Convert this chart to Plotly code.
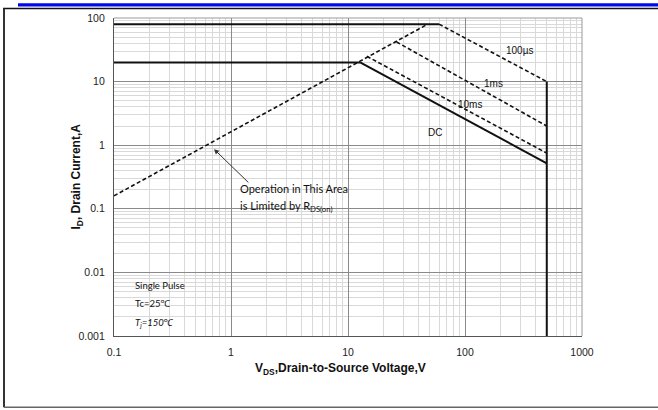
import plotly.graph_objects as go
import math

# ---- data (V, A) ----
rds_x = [0.1, 48]
rds_y = [0.16, 80]
lim80_x = [0.1, 60]
lim80_y = [80, 80]
lim20_x = [0.1, 12.7]
lim20_y = [20, 20]
dc_x = [12.7, 500]
dc_y = [20, 0.52]
ms10_x = [14.5, 500]
ms10_y = [25, 0.75]
ms1_x = [26, 500]
ms1_y = [42, 2.0]
us100_x = [60, 500]
us100_y = [80, 10]
vmax_x = [500, 500]
vmax_y = [10, 0.001]

x_ticks = [0.1, 1, 10, 100, 1000]
x_ticktext = ["0.1", "1", "10", "100", "1000"]
y_ticks = [0.001, 0.01, 0.1, 1, 10, 100]
y_ticktext = ["0.001", "0.01", "0.1", "1", "10", "100"]

curve_labels = [("100µs", 290, 31), ("1ms", 175, 9.2), ("10ms", 110, 4.4), ("DC", 55, 1.6)]

fig = go.Figure()

solid = dict(color="#111111", width=2)
dashed = dict(color="#111111", width=1.6, dash="4px,2.5px")

for xs, ys, ln in [
    (rds_x, rds_y, dashed),
    (lim80_x, lim80_y, solid),
    (lim20_x, lim20_y, solid),
    (dc_x, dc_y, solid),
    (ms10_x, ms10_y, dashed),
    (ms1_x, ms1_y, dashed),
    (us100_x, us100_y, dashed),
    (vmax_x, vmax_y, solid),
]:
    fig.add_trace(go.Scatter(x=xs, y=ys, mode="lines", line=ln, showlegend=False, hoverinfo="skip"))

# minor grid values
def minor_vals(lo, hi):
    vals = []
    for e in range(lo, hi):
        for m in range(2, 10):
            vals.append(m * 10 ** e)
    return vals

W, H = 658, 410
L, R, T, B = 114, 76, 15, 74
pw, ph = W - L - R, H - T - B

def px(x):
    return (x - L) / pw

def py(y):
    return (H - B - y) / ph

axfont = dict(family="Liberation Sans, Arial, sans-serif", size=10.5, color="#222222")

fig.update_xaxes(
    type="log", range=[-1, 3], tickvals=x_ticks, ticktext=x_ticktext,
    showgrid=True, gridcolor="#8a8a8a", gridwidth=1,
    minor=dict(tickvals=minor_vals(-1, 3), showgrid=True, gridcolor="#d9d9d9", gridwidth=1),
    showline=True, linecolor="#555555", linewidth=1.2, ticks="",
    tickfont=axfont, zeroline=False, ticklabelstandoff=6,
)
fig.update_yaxes(
    type="log", range=[-3, 2], tickvals=y_ticks, ticktext=y_ticktext,
    showgrid=True, gridcolor="#8a8a8a", gridwidth=1,
    minor=dict(tickvals=minor_vals(-3, 2), showgrid=True, gridcolor="#d9d9d9", gridwidth=1),
    showline=True, linecolor="#555555", linewidth=1.2, ticks="",
    tickfont=axfont, zeroline=False, ticklabelstandoff=6,
)

shapes = [
    # page decoration
    dict(type="rect", xref="paper", yref="paper", x0=px(18), x1=px(658), y0=py(3.5), y1=py(0), fillcolor="#0008ee", line=dict(width=0)),
    dict(type="line", xref="paper", yref="paper", x0=px(3), x1=px(658), y0=py(5.5), y1=py(5.5), line=dict(color="#111111", width=1.5)),
    dict(type="line", xref="paper", yref="paper", x0=px(4), x1=px(4), y0=py(5.5), y1=py(408), line=dict(color="#333333", width=2)),
    dict(type="line", xref="paper", yref="paper", x0=px(4), x1=px(658), y0=py(408), y1=py(408), line=dict(color="#666666", width=1.5)),
    # top/right plot edges
    dict(type="line", xref="paper", yref="paper", x0=0, x1=1, y0=1, y1=1, line=dict(color="#9a9a9a", width=1)),
    dict(type="line", xref="paper", yref="paper", x0=1, x1=1, y0=0, y1=1, line=dict(color="#9a9a9a", width=1)),
    # white text boxes
    dict(type="rect", xref="paper", yref="paper", layer="between", x0=px(128), x1=px(228), y0=py(334), y1=py(276), fillcolor="white", line=dict(width=0)),
    dict(type="rect", xref="paper", yref="paper", layer="between", x0=px(233), x1=px(375), y0=py(216), y1=py(179), fillcolor="white", line=dict(width=0)),
]

labfont = dict(family="Liberation Sans, Arial, sans-serif", size=10, color="#111111")
calfont = dict(family="Lato, Noto Sans, sans-serif", size=9.5, color="#111111")

annotations = []
for t, xv, yv in curve_labels:
    annotations.append(dict(text=t, x=math.log10(xv), y=math.log10(yv), xref="x", yref="y", showarrow=False, font=labfont))

annotations += [
    dict(text="Operation in This Area", xref="paper", yref="paper", x=px(238), y=py(187), xanchor="left", yanchor="middle", showarrow=False, font=dict(calfont, size=11)),
    dict(text="is Limited by R<sub>DS(on)</sub>", xref="paper", yref="paper", x=px(238), y=py(205), xanchor="left", yanchor="middle", showarrow=False, font=dict(calfont, size=11)),
    dict(text="", x=math.log10(0.716), y=math.log10(0.866), xref="x", yref="y",
         ax=math.log10(1.45), ay=math.log10(0.246), axref="x", ayref="y",
         showarrow=True, arrowhead=2, arrowsize=1, arrowwidth=1, arrowcolor="#333333"),
    dict(text="Single Pulse", xref="paper", yref="paper", x=px(133), y=py(285), xanchor="left", yanchor="middle", showarrow=False, font=calfont),
    dict(text="Tc=25℃", xref="paper", yref="paper", x=px(133), y=py(303), xanchor="left", yanchor="middle", showarrow=False, font=calfont),
    dict(text="<i>T<sub>j</sub>=150℃</i>", xref="paper", yref="paper", x=px(133), y=py(323), xanchor="left", yanchor="middle", showarrow=False, font=calfont),
    dict(text="<b>I<sub>D</sub>, Drain Current,A</b>", xref="paper", yref="paper", x=px(77), y=py(175), xanchor="center", yanchor="middle",
         textangle=-90, showarrow=False,
         font=dict(family="Liberation Sans, Arial, sans-serif", size=12, color="#111111")),
    dict(text="<b>V<sub>DS</sub>,Drain-to-Source Voltage,V</b>", xref="paper", yref="paper", x=px(340), y=py(369), xanchor="center", yanchor="middle",
         showarrow=False,
         font=dict(family="Liberation Sans, Arial, sans-serif", size=12, color="#111111")),
]

fig.update_layout(
    width=W, height=H,
    margin=dict(l=L, r=R, t=T, b=B),
    paper_bgcolor="white", plot_bgcolor="white",
    shapes=shapes, annotations=annotations,
    showlegend=False,
)

fig.write_html("out.html", config={"displayModeBar": False},
               post_script="document.body.style.margin='0';document.body.style.overflow='hidden';")
